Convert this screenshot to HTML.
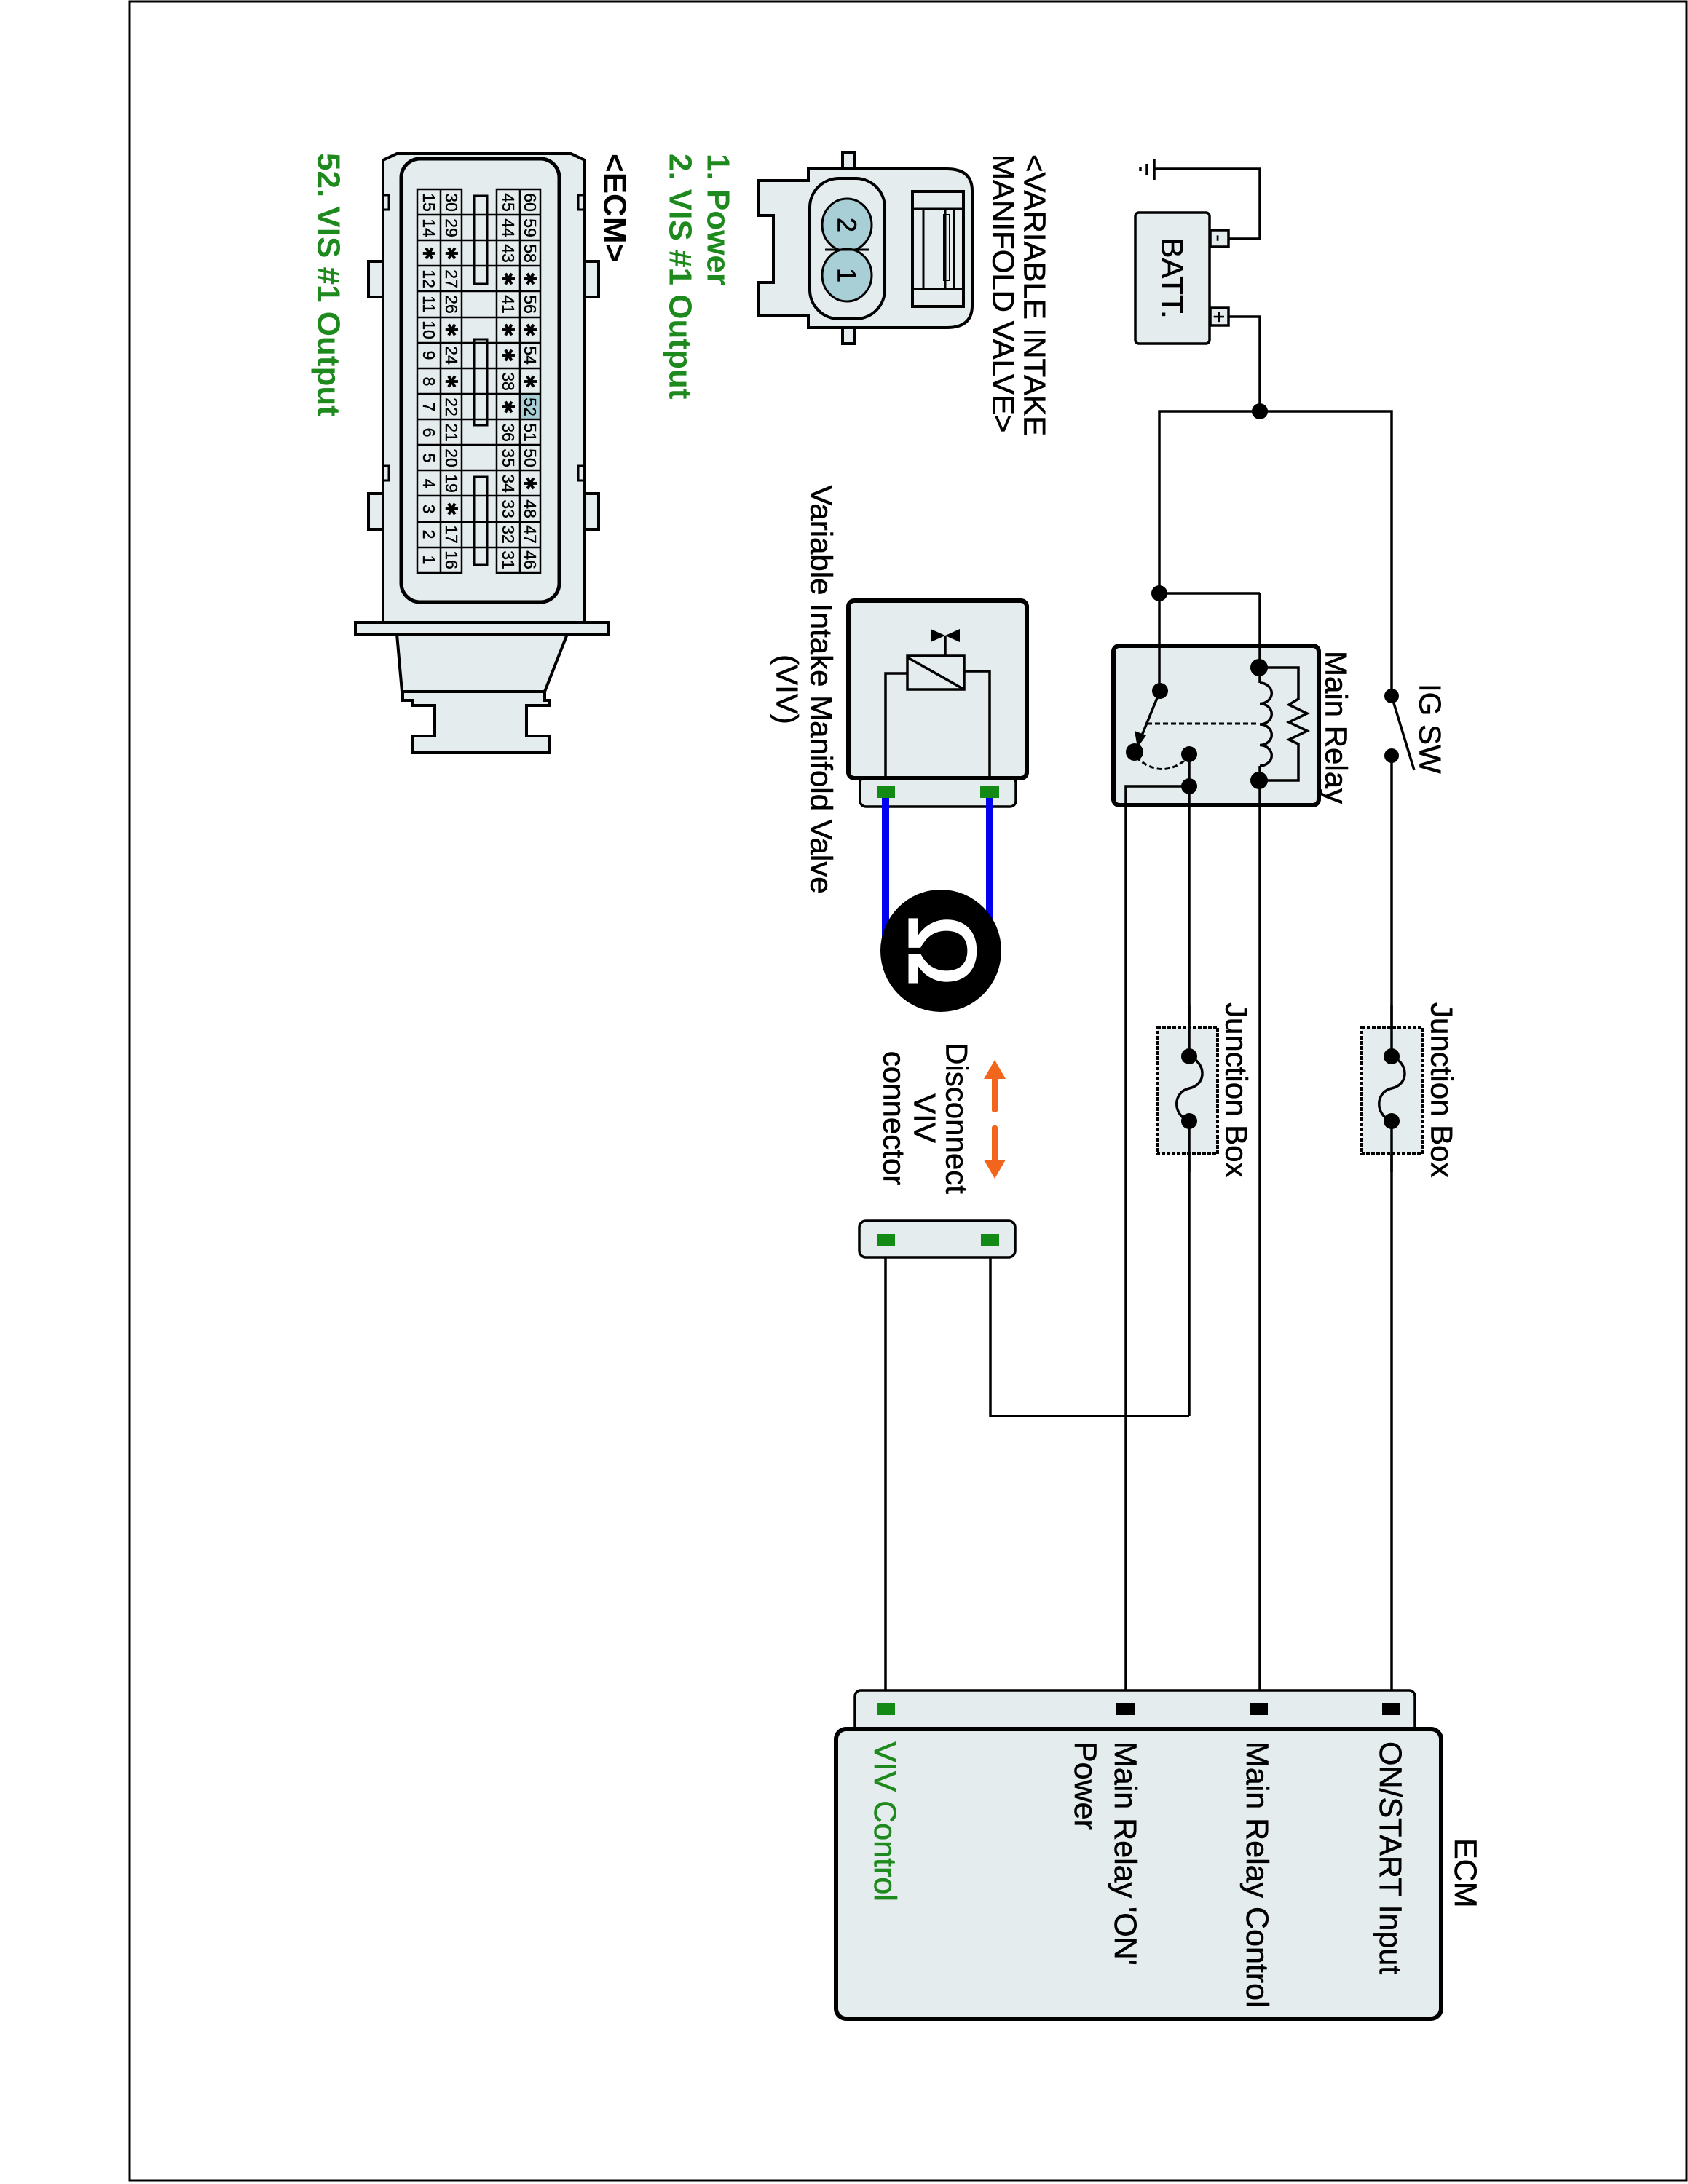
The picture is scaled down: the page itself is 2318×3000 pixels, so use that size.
<!DOCTYPE html>
<html><head><meta charset="utf-8"><style>
html,body{margin:0;padding:0;background:#fff}
svg{display:block}
text{font-family:"Liberation Sans",Arial,sans-serif}
.t{stroke:#000;stroke-width:0.6}
</style></head><body>
<svg width="2318" height="3000" viewBox="0 0 2318 3000" xmlns="http://www.w3.org/2000/svg">
<rect x="178" y="2" width="2138" height="2993" fill="none" stroke="#000" stroke-width="3"/>

<g stroke="#000" stroke-width="4" fill="#e4eced">
  <rect x="506" y="359" width="22" height="49"/>
  <rect x="506" y="678" width="22" height="49"/>
  <rect x="800" y="359" width="22" height="49"/>
  <rect x="800" y="678" width="22" height="49"/>
  <polygon points="545,211 784,211 803,220 803,855 526,855 526,220"/>
  <rect x="488" y="855" width="348" height="16"/>
  <polygon points="545,871 779,871 748,950 552,950" />
  <path d="M553,950 L748,950 L748,962 L754,962 L754,969 L723,969 L723,1011 L754,1011 L754,1034 L567,1034 L567,1011 L597,1011 L597,969 L566,969 L566,962 L553,962 Z"/>
  <rect x="551" y="218" width="217" height="609" rx="26" stroke-width="5"/>
</g>
<g stroke="#000" stroke-width="3" fill="none">
  <rect x="526" y="268" width="8" height="20" fill="#e4eced"/>
  <rect x="526" y="640" width="8" height="20" fill="#e4eced"/>
  <rect x="794" y="268" width="8" height="20" fill="#e4eced"/>
  <rect x="794" y="640" width="8" height="20" fill="#e4eced"/>
  <rect x="651" y="269" width="18" height="121"/>
  <rect x="651" y="466" width="18" height="118"/>
  <rect x="651" y="655" width="18" height="121"/>
</g>
<rect x="714" y="541" width="28" height="35" fill="#a9cfd6"/>
<g stroke="#000" stroke-width="2.5" fill="none">
  <rect x="682" y="260" width="60" height="527"/>
  <line x1="714" y1="260" x2="714" y2="787"/>
  <rect x="573" y="260" width="61" height="527"/>
  <line x1="605" y1="260" x2="605" y2="787"/>
  <path d="M573,295H742M573,330H742M573,365H742M573,400H742M573,436H742M573,471H742M573,506H742M573,541H742M573,576H742M573,611H742M573,646H742M573,681H742M573,717H742M573,752H742"/>
</g>
<g font-size="23" text-anchor="middle" dominant-baseline="central" fill="#000" class="t" style="stroke-width:0.4">
<text transform="translate(728,278) rotate(90)">60</text><text transform="translate(728,313) rotate(90)">59</text><text transform="translate(728,348) rotate(90)">58</text><text transform="translate(728,383) rotate(90)">✱</text><text transform="translate(728,418) rotate(90)">56</text><text transform="translate(728,453) rotate(90)">✱</text><text transform="translate(728,488) rotate(90)">54</text><text transform="translate(728,524) rotate(90)">✱</text><text transform="translate(728,559) rotate(90)">52</text><text transform="translate(728,594) rotate(90)">51</text><text transform="translate(728,629) rotate(90)">50</text><text transform="translate(728,664) rotate(90)">✱</text><text transform="translate(728,699) rotate(90)">48</text><text transform="translate(728,734) rotate(90)">47</text><text transform="translate(728,769) rotate(90)">46</text>
<text transform="translate(698,278) rotate(90)">45</text><text transform="translate(698,313) rotate(90)">44</text><text transform="translate(698,348) rotate(90)">43</text><text transform="translate(698,383) rotate(90)">✱</text><text transform="translate(698,418) rotate(90)">41</text><text transform="translate(698,453) rotate(90)">✱</text><text transform="translate(698,488) rotate(90)">✱</text><text transform="translate(698,524) rotate(90)">38</text><text transform="translate(698,559) rotate(90)">✱</text><text transform="translate(698,594) rotate(90)">36</text><text transform="translate(698,629) rotate(90)">35</text><text transform="translate(698,664) rotate(90)">34</text><text transform="translate(698,699) rotate(90)">33</text><text transform="translate(698,734) rotate(90)">32</text><text transform="translate(698,769) rotate(90)">31</text>
<text transform="translate(620,278) rotate(90)">30</text><text transform="translate(620,313) rotate(90)">29</text><text transform="translate(620,348) rotate(90)">✱</text><text transform="translate(620,383) rotate(90)">27</text><text transform="translate(620,418) rotate(90)">26</text><text transform="translate(620,453) rotate(90)">✱</text><text transform="translate(620,488) rotate(90)">24</text><text transform="translate(620,524) rotate(90)">✱</text><text transform="translate(620,559) rotate(90)">22</text><text transform="translate(620,594) rotate(90)">21</text><text transform="translate(620,629) rotate(90)">20</text><text transform="translate(620,664) rotate(90)">19</text><text transform="translate(620,699) rotate(90)">✱</text><text transform="translate(620,734) rotate(90)">17</text><text transform="translate(620,769) rotate(90)">16</text>
<text transform="translate(589,278) rotate(90)">15</text><text transform="translate(589,313) rotate(90)">14</text><text transform="translate(589,348) rotate(90)">✱</text><text transform="translate(589,383) rotate(90)">12</text><text transform="translate(589,418) rotate(90)">11</text><text transform="translate(589,453) rotate(90)">10</text><text transform="translate(589,488) rotate(90)">9</text><text transform="translate(589,524) rotate(90)">8</text><text transform="translate(589,559) rotate(90)">7</text><text transform="translate(589,594) rotate(90)">6</text><text transform="translate(589,629) rotate(90)">5</text><text transform="translate(589,664) rotate(90)">4</text><text transform="translate(589,699) rotate(90)">3</text><text transform="translate(589,734) rotate(90)">2</text><text transform="translate(589,769) rotate(90)">1</text>
</g>

<g font-size="44" font-weight="bold" dominant-baseline="central">
  <text transform="translate(451,210) rotate(90)" fill="#1e8a1e">52. VIS #1 Output</text>
  <text transform="translate(844,211) rotate(90)" fill="#000">&lt;ECM&gt;</text>
  <text transform="translate(934,211) rotate(90)" fill="#1e8a1e">2. VIS #1 Output</text>
  <text transform="translate(986,211) rotate(90)" fill="#1e8a1e">1. Power</text>
</g>
<g font-size="42" dominant-baseline="central" fill="#000" class="t">
  <text transform="translate(1421,212) rotate(90)">&lt;VARIABLE INTAKE</text>
  <text transform="translate(1378,212) rotate(90)">MANIFOLD VALVE&gt;</text>
</g>

<g stroke="#000" stroke-width="4" fill="#e4eced">
  <rect x="1157" y="209" width="16" height="30"/>
  <rect x="1157" y="444" width="16" height="28"/>
  <path d="M1042,248 L1110,248 L1110,232 L1300,232 Q1335,232 1335,262 L1335,420 Q1335,450 1300,450 L1110,450 L1110,434 L1042,434 L1042,388 L1062,388 L1062,296 L1042,296 Z"/>
  <rect x="1112" y="245" width="103" height="193" rx="40"/>
  <rect x="1253" y="263" width="70" height="158" fill="none"/>
  <rect x="1268" y="287" width="42" height="110" fill="none" stroke-width="3"/>
  <line x1="1298" y1="287" x2="1298" y2="397" stroke-width="3"/>
  <rect x="1296" y="295" width="8" height="90" fill="none" stroke-width="2"/>
  <line x1="1253" y1="287" x2="1323" y2="287" stroke-width="3"/>
  <line x1="1253" y1="397" x2="1323" y2="397" stroke-width="3"/>
</g>
<g stroke="#000" stroke-width="3" fill="#a9cfd6">
  <ellipse cx="1163" cy="309" rx="34" ry="36"/>
  <ellipse cx="1163" cy="378" rx="34" ry="36"/>
  <line x1="1133" y1="343" x2="1193" y2="343" fill="none"/>
</g>
<g font-size="36" text-anchor="middle" dominant-baseline="central" class="t">
  <text transform="translate(1163,309) rotate(90)">2</text>
  <text transform="translate(1163,378) rotate(90)">1</text>
</g>

<g stroke="#000" stroke-width="3.5" fill="none">
  <polyline points="1688,328 1730,328 1730,232 1585,232"/>
  <line x1="1585" y1="218" x2="1585" y2="247"/>
  <line x1="1575" y1="225" x2="1575" y2="240"/>
  <line x1="1566" y1="230" x2="1566" y2="235"/>
  <polyline points="1688,435 1730,435 1730,565"/>
  <polyline points="1592,1000 1592,565 1911,565 1911,956"/>
  <polyline points="1730,815 1592,815"/>
  <line x1="1730" y1="815" x2="1730" y2="938"/>
  <line x1="1730" y1="1052" x2="1730" y2="2343"/>
  <line x1="1633" y1="1036" x2="1633" y2="1945"/>
  <polyline points="1633,1080 1546,1080 1546,2343"/>
  <line x1="1911" y1="956" x2="1942" y2="1058"/>
  <line x1="1911" y1="1038" x2="1911" y2="2343"/>
  <polyline points="1360,1712 1360,1945 1633,1945"/>
  <line x1="1216" y1="1712" x2="1216" y2="2343"/>
</g>

<g stroke="#000" stroke-width="3.5" fill="#e4eced">
  <rect x="1559" y="292" width="102" height="180" rx="5"/>
  <rect x="1662" y="316" width="25" height="23"/>
  <rect x="1662" y="423" width="25" height="24"/>
</g>
<text transform="translate(1674,327) rotate(90)" font-size="28" text-anchor="middle" dominant-baseline="central" class="t">-</text>
<text transform="translate(1674,435) rotate(90)" font-size="28" text-anchor="middle" dominant-baseline="central" class="t">+</text>
<text transform="translate(1610,382) rotate(90)" font-size="42" text-anchor="middle" dominant-baseline="central" class="t">BATT.</text>

<rect x="1529" y="887" width="282" height="219" rx="8" fill="#e4eced" stroke="#000" stroke-width="6"/>
<g stroke="#000" stroke-width="3.5" fill="none">
  <line x1="1592" y1="887" x2="1592" y2="949"/>
  <line x1="1730" y1="887" x2="1730" y2="938"/>
  <line x1="1730" y1="1052" x2="1730" y2="1106"/>
  <path d="M1730,938 a16,14 0 0 1 0,28.5 a16,14 0 0 1 0,28.5 a16,14 0 0 1 0,28.5 a16,14 0 0 1 0,28.5"/>
  <polyline points="1730,917 1783,917 1783,960 1770,968 1795,980 1770,992 1795,1004 1770,1016 1783,1022 1783,1072 1730,1072"/>
  <line x1="1593" y1="949" x2="1566" y2="1015"/>
  <line x1="1633" y1="1036" x2="1633" y2="1106"/>
  <polyline points="1633,1080 1546,1080 1546,1106"/>
</g>
<polygon points="1562,1027 1558,1004 1574,1010" fill="#000"/>
<g stroke="#000" stroke-width="3" stroke-dasharray="7,4" fill="none">
  <line x1="1575" y1="994" x2="1729" y2="994"/>
  <path d="M1560,1040 Q1595,1072 1630,1042"/>
</g>
<g fill="#000">
  <circle cx="1730" cy="565" r="11"/>
  <circle cx="1592" cy="815" r="11"/>
  <circle cx="1593" cy="949" r="11"/>
  <circle cx="1558" cy="1033" r="12"/>
  <circle cx="1633" cy="1036" r="11"/>
  <circle cx="1633" cy="1080" r="11"/>
  <circle cx="1729" cy="917" r="12"/>
  <circle cx="1729" cy="1072" r="12"/>
  <circle cx="1911" cy="956" r="10"/>
  <circle cx="1911" cy="1038" r="10"/>
</g>
<g font-size="42" dominant-baseline="central" class="t">
  <text transform="translate(1964,939) rotate(90)">IG SW</text>
  <text transform="translate(1835,894) rotate(90)">Main Relay</text>
</g>

<g stroke="#000" stroke-width="4" stroke-dasharray="5,2" fill="#e4eced">
  <rect x="1870" y="1411" width="83" height="174"/>
  <rect x="1589" y="1411" width="83" height="174"/>
</g>
<g stroke="#000" stroke-width="3.5" fill="none">
  <line x1="1911" y1="1380" x2="1911" y2="1451"/><line x1="1911" y1="1540" x2="1911" y2="1610"/>
  <line x1="1633" y1="1380" x2="1633" y2="1451"/><line x1="1633" y1="1540" x2="1633" y2="1610"/>
  <path d="M1911,1451 C1935,1460 1935,1490 1911,1495 C1888,1500 1888,1532 1911,1540"/>
  <path d="M1633,1451 C1657,1460 1657,1490 1633,1495 C1610,1500 1610,1532 1633,1540"/>
</g>
<g fill="#000">
  <circle cx="1911" cy="1451" r="11"/><circle cx="1911" cy="1540" r="11"/>
  <circle cx="1633" cy="1451" r="11"/><circle cx="1633" cy="1540" r="11"/>
</g>
<g font-size="42" dominant-baseline="central" class="t">
  <text transform="translate(1980,1377) rotate(90)">Junction Box</text>
  <text transform="translate(1698,1377) rotate(90)">Junction Box</text>
</g>

<rect x="1181" y="1067" width="214" height="41" rx="8" fill="#e4eced" stroke="#000" stroke-width="3.5"/>
<rect x="1165" y="825" width="245" height="244" rx="8" fill="#e4eced" stroke="#000" stroke-width="6"/>
<g stroke="#000" stroke-width="3.5" fill="none">
  <polyline points="1216,1069 1216,925 1246,925"/>
  <polyline points="1359,1069 1359,922 1324,922"/>
  <rect x="1246" y="901" width="78" height="46"/>
  <line x1="1246" y1="903" x2="1324" y2="947"/>
  <line x1="1298" y1="901" x2="1298" y2="873"/>
</g>
<polygon points="1278,864 1298,873 1278,882" fill="#000"/>
<polygon points="1318,864 1298,873 1318,882" fill="#000"/>
<g stroke="#0000ee" stroke-width="10">
  <line x1="1216" y1="1096" x2="1216" y2="1300"/>
  <line x1="1359" y1="1096" x2="1359" y2="1300"/>
</g>
<rect x="1204" y="1079" width="25" height="17" fill="#138a13"/>
<rect x="1346" y="1079" width="26" height="17" fill="#138a13"/>
<ellipse cx="1292" cy="1306" rx="83" ry="84" fill="#000"/>
<text transform="translate(1294,1306) rotate(90)" font-size="130" fill="#fff" stroke="#fff" stroke-width="3" text-anchor="middle" dominant-baseline="central">Ω</text>
<g font-size="42" text-anchor="middle" dominant-baseline="central" class="t">
  <text transform="translate(1128,947) rotate(90)">Variable Intake Manifold Valve</text>
  <text transform="translate(1081,947) rotate(90)">(VIV)</text>
  <text transform="translate(1314,1536) rotate(90)">Disconnect</text>
  <text transform="translate(1270,1536) rotate(90)">VIV</text>
  <text transform="translate(1228,1536) rotate(90)">connector</text>
</g>
<g fill="#f2651c">
  <polygon points="1366,1456 1381,1482 1351,1482"/>
  <rect x="1362" y="1478" width="8" height="50" rx="3"/>
  <polygon points="1366,1619 1381,1593 1351,1593"/>
  <rect x="1362" y="1546" width="8" height="50" rx="3"/>
</g>

<rect x="1180" y="1677" width="214" height="50" rx="9" fill="#e4eced" stroke="#000" stroke-width="3.5"/>
<rect x="1204" y="1695" width="25" height="17" fill="#138a13"/>
<rect x="1347" y="1695" width="25" height="17" fill="#138a13"/>

<rect x="1174" y="2322" width="769" height="60" rx="8" fill="#e4eced" stroke="#000" stroke-width="3.5"/>
<rect x="1148" y="2375" width="831" height="398" rx="14" fill="#e4eced" stroke="#000" stroke-width="6"/>
<rect x="1204" y="2339" width="25" height="17" fill="#138a13"/>
<rect x="1533" y="2339" width="25" height="17" fill="#000"/>
<rect x="1716" y="2339" width="25" height="17" fill="#000"/>
<rect x="1898" y="2339" width="25" height="17" fill="#000"/>
<g font-size="43" dominant-baseline="central" class="t">
  <text transform="translate(2012,2525) rotate(90)">ECM</text>
  <text transform="translate(1909,2392) rotate(90)">ON/START Input</text>
  <text transform="translate(1726,2392) rotate(90)">Main Relay Control</text>
  <text transform="translate(1545,2392) rotate(90)">Main Relay 'ON'</text>
  <text transform="translate(1490,2392) rotate(90)">Power</text>
  <text transform="translate(1215,2392) rotate(90)" fill="#1e8a1e" style="stroke:#1e8a1e">VIV Control</text>
</g>
</svg>
</body></html>
